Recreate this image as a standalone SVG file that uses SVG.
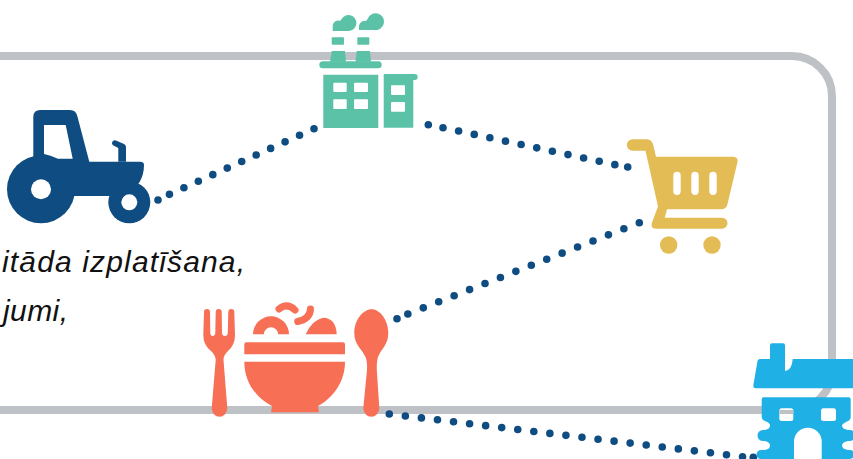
<svg xmlns="http://www.w3.org/2000/svg" width="853" height="459" viewBox="0 0 853 459">
<style>
.frame{fill:none;stroke:#bec1c6;stroke-width:8}
.dots{fill:none;stroke:#0f4c81;stroke-width:7.600;stroke-linecap:round;stroke-dasharray:0 1}
.dot{fill:#0f4c81}
.caption{font-family:"Liberation Sans",Arial,sans-serif;font-style:italic;font-size:30px;fill:#111}
.green{fill:#5cc2a7}.navy{fill:#0f4c81}.yellow{fill:#e4bc55}.coral{fill:#f76f55}.sky{fill:#1fb1e6}.hole{fill:#fff}
</style>
<rect width="853" height="459" fill="#fff"/>
<rect id="frame" class="frame" x="-80" y="56" width="912" height="354" rx="40" ry="40"/>
<g id="connectors">
<line class="dots" x1="314" y1="128.700" x2="169.300" y2="194.400" pathLength="10.010"/>
<circle class="dot" cx="158" cy="200" r="3.800"/>
<line class="dots" x1="443" y1="127.700" x2="615" y2="164.700" pathLength="11.010"/>
<circle class="dot" cx="428.300" cy="124.700" r="3.800"/>
<circle class="dot" cx="627.700" cy="167" r="3.800"/>
<line class="dots" x1="639.300" y1="222.700" x2="407.700" y2="314" pathLength="15.010"/>
<circle class="dot" cx="397" cy="318.700" r="3.800"/>
<line class="dots" x1="389.300" y1="414" x2="742.700" y2="456.700" pathLength="22.010"/>
<circle class="dot" cx="753.300" cy="457.300" r="3.800"/>
</g>
<g id="caption">
<text class="caption" x="2" y="272" textLength="243" lengthAdjust="spacing">itāda izplatīšana,</text>
<text class="caption" x="3" y="321" textLength="65" lengthAdjust="spacing">jumi,</text>
</g>
<g id="factory">
<g class="green">
<path d="M323.3 74.7H378.3V128H323.3Z"/>
<path d="M383.7 74H414.7A3 3 0 0 1 414.7 80H413.3V127.7H383.7Z"/>
<rect x="319.3" y="61.3" width="62.4" height="7" rx="3.5"/>
<path d="M331.7 51H345L346 61.7H330Z"/>
<path d="M356.7 51H370L371 61.7H355.5Z"/>
<rect x="331.7" y="37.3" width="12.3" height="7.4" rx="1"/>
<rect x="357.3" y="37.3" width="12" height="7.4" rx="1"/>
<path d="M332.7 31V26A5.5 5.5 0 0 1 338 20.5Q340 21 341 20A8 8 0 1 1 349 31Z"/>
<path d="M359 30V26A5.5 5.5 0 0 1 365 21Q367 21 367.500 19A8.500 8.500 0 1 1 374 30Z"/>
</g>
<g class="hole">
<rect x="333.300" y="82.700" width="13.400" height="9.300" rx="1"/>
<rect x="354" y="82.700" width="14" height="9.300" rx="1"/>
<rect x="333.300" y="99.300" width="13.400" height="9.700" rx="1"/>
<rect x="354" y="99.300" width="14" height="9.700" rx="1"/>
<rect x="391" y="85.300" width="14" height="9.700" rx="1"/>
<rect x="391" y="102" width="14" height="9.700" rx="1"/>
</g>
</g>
<g id="tractor">
<path class="navy" d="M33.300 160V117Q33.300 110 40.300 110H70Q76 110 77.300 116L89.300 161.700H140Q144 161.700 144 165Q144 175 139 183L120 196H73L60 170Z"/>
<path class="navy" d="M118.300 161.700V148L113.500 145.500A2.800 2.800 0 0 1 116 140.500L124 144Q126 145 126 147V161.700Z"/>
<path class="hole" d="M44 125H65.700L72.700 158.700H58Q50 155 44 154Z"/>
<circle class="navy" cx="41" cy="189.300" r="34"/>
<circle class="navy" cx="129.300" cy="202.300" r="21"/>
<circle class="hole" cx="41" cy="189.300" r="10"/>
<circle class="hole" cx="129.300" cy="202.300" r="8"/>
</g>
<g id="cart">
<path class="yellow" d="M632.500 139.300H646Q651.500 139.300 653 144L656 156.700H733Q738.500 157 737.500 162L727.500 204Q726.500 209.300 721 209.300H667L664.800 217.700H722A5.500 5.500 0 0 1 722 228.700H656Q650 228.700 652 222.500L658 206.500L645.500 150.700H632.500A5.700 5.700 0 0 1 632.500 139.300Z"/>
<circle class="yellow" cx="668.700" cy="245" r="8.700"/>
<circle class="yellow" cx="712" cy="245" r="8.700"/>
<rect class="hole" x="673.300" y="171.700" width="7.400" height="23.300" rx="3.700"/>
<rect class="hole" x="691.300" y="171.700" width="7.400" height="23.300" rx="3.700"/>
<rect class="hole" x="709.300" y="171.700" width="7.400" height="23.300" rx="3.700"/>
</g>
<g id="food">
<path class="coral" d="M204 312A3 3 0 0 1 210 312L210.300 333Q210.500 336 212.500 336Q215 336 215.300 333L215.700 312A3 3 0 0 1 221.700 312L222 333Q222.300 336 225 336Q227.500 336 227.800 333L228.300 312A3 3 0 0 1 234.300 312L235 335Q235 345 228 351Q223.500 355 223.500 360L227.300 408A7.800 8.700 0 0 1 211.700 408L215.700 360Q215.500 355 211 351Q203.300 345 203.300 335Z"/>
<path class="coral" d="M253 334.300A18 18 0 0 1 289 334.300H278A7 7 0 0 0 264 334.300Z"/>
<path class="coral" d="M305.700 334.300Q312 320 323 317.700Q336 318 336.700 334.300Z"/>
<path d="M279 309Q287 302.500 295 310" fill="none" stroke="#f76f55" stroke-width="7" stroke-linecap="round"/>
<path d="M297.700 321.500Q310 319 310.500 309" fill="none" stroke="#f76f55" stroke-width="7" stroke-linecap="round"/>
<path class="coral" d="M246.300 342.300H343Q345 342.300 345 344.300V354.300H244.300V344.300Q244.300 342.300 246.300 342.300Z"/>
<path class="coral" d="M244.300 361.700H345C345 382 333 398 318 406L319 412.300H271L272 406C256 398 244.300 382 244.300 361.700Z"/>
<path class="coral" d="M371.700 309.300C380 309.300 388.300 320 388.300 333C388.300 345 381 349 378 357Q376.500 362 376.800 370L379.300 408A8 8.700 0 0 1 363.300 408L367 370Q367.500 362 365.500 357C362 349 354.300 345 354.300 333C354.300 320 363 309.300 371.700 309.300Z"/>
</g>
<g id="house">
<path class="sky" d="M760 359H770V345.300Q770 343.300 772 343.300H783Q785 343.300 785 345.300V371Q792 370 792.700 359H853V388.300H755.500Q753 388.300 753.300 385.500L757.500 361Q758 359 760 359Z"/>
<path class="sky" d="M763.700 397.300H848.700Q850.700 397.300 850.700 399.300V417Q850.700 420 847 421.500Q842 424 842 425.500Q842 429 848 430H850A5.500 5.500 0 0 1 850 441H848Q842 442 842 445.500Q842 449 848 450H850A4.500 4.500 0 0 1 850 459H821.700V441.500A13.850 13.850 0 0 0 794 441.500V459H761A4.500 4.500 0 0 1 761 450H765Q770 449 770 445.500Q770 442 765 441H763A5.500 5.500 0 0 1 763 430H765Q770 429 770 425.500Q770 423 766 421.500Q761.700 420 761.700 417V399.300Q761.700 397.300 763.700 397.300Z"/>
<rect x="779.300" y="408.300" width="14" height="12.700" rx="2.500" fill="#fff"/>
<path d="M779.300 410H793.300V414H779.300Z" fill="#bec1c6"/>
<rect x="821" y="408.300" width="15" height="12.700" rx="2.500" fill="#fff"/>
</g>
</svg>
